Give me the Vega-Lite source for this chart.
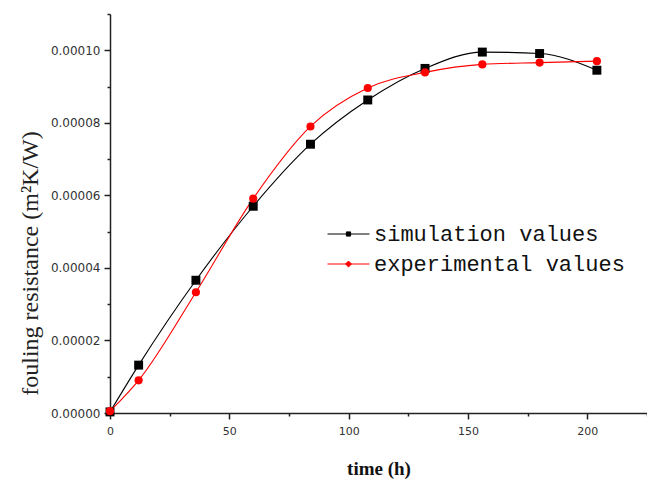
{
  "$schema": "https://vega.github.io/schema/vega-lite/v6.json",
  "width": 537,
  "height": 399,
  "autosize": {"type": "none"},
  "padding": {"left": 110, "top": 14, "right": 0, "bottom": 66},
  "background": "white",
  "config": {"view": {"stroke": null}},
  "data": {"values": [
    {"series": "simulation values", "time": 0, "R": 0.0000003},
    {"series": "simulation values", "time": 12, "R": 0.0000132},
    {"series": "simulation values", "time": 36, "R": 0.0000366},
    {"series": "simulation values", "time": 60, "R": 0.0000570},
    {"series": "simulation values", "time": 84, "R": 0.0000741},
    {"series": "simulation values", "time": 108, "R": 0.0000863},
    {"series": "simulation values", "time": 132, "R": 0.0000950},
    {"series": "simulation values", "time": 156, "R": 0.0000995},
    {"series": "simulation values", "time": 180, "R": 0.0000991},
    {"series": "simulation values", "time": 204, "R": 0.0000945},
    {"series": "experimental values", "time": 0, "R": 0.0000005},
    {"series": "experimental values", "time": 12, "R": 0.0000090},
    {"series": "experimental values", "time": 36, "R": 0.0000333},
    {"series": "experimental values", "time": 60, "R": 0.0000591},
    {"series": "experimental values", "time": 84, "R": 0.0000790},
    {"series": "experimental values", "time": 108, "R": 0.0000896},
    {"series": "experimental values", "time": 132, "R": 0.0000939},
    {"series": "experimental values", "time": 156, "R": 0.0000961},
    {"series": "experimental values", "time": 180, "R": 0.0000966},
    {"series": "experimental values", "time": 204, "R": 0.0000970}
  ]},
  "encoding": {
    "x": {
      "field": "time", "type": "quantitative",
      "scale": {"domain": [0, 225], "nice": false, "zero": false},
      "axis": {
        "values": [0, 25, 50, 75, 100, 125, 150, 175, 200, 225],
        "labelExpr": "datum.value % 50 == 0 ? datum.label : ''",
        "format": "d",
        "grid": false, "labelFlush": false,
        "domainColor": "#222", "domainWidth": 1.5,
        "tickColor": "#222", "tickWidth": 1.5,
        "tickSize": {"condition": {"test": "datum.value % 50 == 0", "value": 6}, "value": 3},
        "labelFont": "DejaVu Sans", "labelFontSize": 11, "labelColor": "#333", "labelPadding": 6,
        "title": "time (h)",
        "titleFont": "Liberation Serif", "titleFontSize": 19, "titleFontWeight": "bold", "titleColor": "#111",
        "titleBaseline": "alphabetic", "titleY": 61
      }
    },
    "y": {
      "field": "R", "type": "quantitative",
      "scale": {"domain": [0, 0.00011], "nice": false},
      "axis": {
        "values": [0, 0.00001, 0.00002, 0.00003, 0.00004, 0.00005, 0.00006, 0.00007, 0.00008, 0.00009, 0.0001, 0.00011],
        "labelExpr": "(round(datum.value * 1e6) % 20 == 0) ? format(datum.value, '.5f') : ''",
        "grid": false, "labelFlush": false,
        "domainColor": "#222", "domainWidth": 1.5,
        "tickColor": "#222", "tickWidth": 1.5,
        "tickSize": {"condition": {"test": "round(datum.value * 1e6) % 20 == 0", "value": 6}, "value": 3},
        "labelFont": "DejaVu Sans", "labelFontSize": 12, "labelColor": "#333", "labelPadding": 4,
        "title": "fouling resistance (m²K/W)",
        "titleFont": "Liberation Serif", "titleFontSize": 24, "titleFontWeight": "normal", "titleColor": "#222",
        "titleAngle": -90, "titleBaseline": "alphabetic", "titleAlign": "center",
        "titleX": -73, "titleY": 249
      }
    },
    "color": {
      "field": "series", "type": "nominal",
      "scale": {"domain": ["simulation values", "experimental values"], "range": ["black", "red"]},
      "legend": {
        "title": null, "orient": "none", "legendX": 217, "legendY": 208, "padding": 0,
        "labelFont": "Liberation Mono", "labelFontSize": 22, "labelColor": "#111", "labelLimit": 0,
        "symbolSize": 1764, "labelOffset": 4, "rowPadding": 6, "clipHeight": 24,
        "encode": {"symbols": {"update": {
          "size": {"value": 1764},
          "strokeWidth": {"value": 1},
          "opacity": {"value": 1}
        }}}
      }
    }
  },
  "layer": [
    {"mark": {"type": "line", "interpolate": "monotone", "strokeWidth": 1.1}},
    {"transform": [{"filter": "datum.series == 'simulation values'"}],
     "mark": {"type": "point", "filled": true, "opacity": 1, "size": 80, "shape": "square"}},
    {"transform": [{"filter": "datum.series == 'experimental values'"}],
     "mark": {"type": "point", "filled": true, "opacity": 1, "size": 66, "shape": "circle"}},
    {"mark": {"type": "point", "filled": true, "opacity": 0, "strokeWidth": 1},
     "encoding": {
       "shape": {"field": "series", "type": "nominal",
         "scale": {"domain": ["simulation values", "experimental values"],
                   "range": ["M-1,0H1M-0.1,-0.1H0.1V0.1H-0.1Z", "M-1,0H1M0,-0.14L0.14,0L0,0.14L-0.14,0Z"]}}
     }}
  ]
}
